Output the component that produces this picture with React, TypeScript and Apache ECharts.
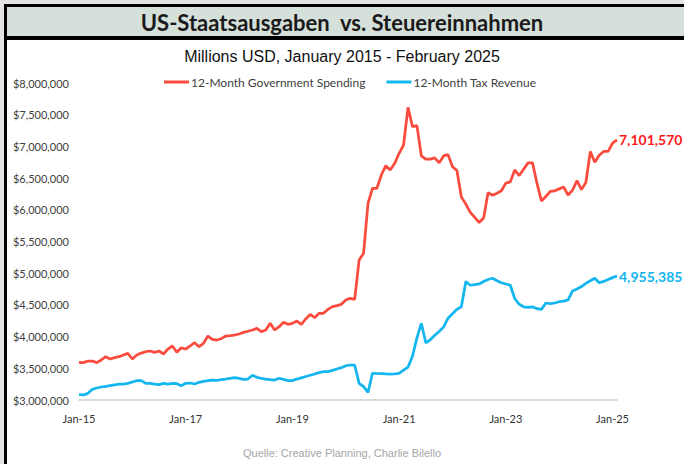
import React, { useEffect, useRef } from "react";
import * as echarts from "echarts";

const MONTH_NAMES = ["Jan", "Feb", "Mar", "Apr", "May", "Jun", "Jul", "Aug", "Sep", "Oct", "Nov", "Dec"];
const START_YEAR = 2015;
const MONTH_COUNT = 122; // Jan 2015 - Feb 2025
const months: string[] = [];
for (let i = 0; i < MONTH_COUNT; i++) {
  const y = START_YEAR + Math.floor(i / 12);
  months.push(`${MONTH_NAMES[i % 12]}-${String(y).slice(2)}`);
}
const xLabelEvery = 24;

const spending = [
  3594000, 3589000, 3615000, 3615000, 3589000, 3631000, 3683000, 3647000, 3668000, 3683000,
  3710000, 3736000, 3647000, 3710000, 3740000, 3762000, 3773000, 3752000, 3773000, 3726000,
  3804000, 3852000, 3752000, 3825000, 3804000, 3852000, 3904000, 3841000, 3894000, 4009000,
  3957000, 3946000, 3967000, 4009000, 4015000, 4025000, 4041000, 4067000, 4085000, 4104000,
  4130000, 4078000, 4104000, 4209000, 4104000, 4157000, 4225000, 4193000, 4209000, 4246000,
  4193000, 4278000, 4351000, 4299000, 4367000, 4367000, 4430000, 4472000, 4488000, 4509000,
  4577000, 4604000, 4588000, 5208000, 5313000, 6102000, 6339000, 6339000, 6549000, 6696000,
  6628000, 6733000, 6891000, 7022000, 7616000, 7311000, 7327000, 6850000, 6800000, 6800000,
  6820000, 6740000, 6850000, 6870000, 6680000, 6620000, 6200000, 6090000, 5960000, 5880000,
  5800000, 5870000, 6270000, 6230000, 6260000, 6300000, 6420000, 6440000, 6630000, 6540000,
  6640000, 6740000, 6740000, 6420000, 6140000, 6210000, 6290000, 6300000, 6330000, 6360000,
  6230000, 6310000, 6460000, 6320000, 6430000, 6920000, 6750000, 6860000, 6920000, 6920000,
  7050000, 7101570,
];

const taxRevenue = [
  3089000, 3079000, 3105000, 3168000, 3189000, 3205000, 3216000, 3228000, 3240000, 3249000,
  3252000, 3263000, 3284000, 3305000, 3305000, 3263000, 3263000, 3252000, 3242000, 3263000,
  3252000, 3263000, 3258000, 3226000, 3263000, 3268000, 3252000, 3279000, 3294000, 3305000,
  3315000, 3310000, 3321000, 3331000, 3342000, 3352000, 3340000, 3326000, 3330000, 3390000,
  3358000, 3342000, 3330000, 3320000, 3315000, 3342000, 3326000, 3305000, 3305000, 3330000,
  3350000, 3370000, 3390000, 3410000, 3431000, 3447000, 3447000, 3468000, 3489000, 3510000,
  3540000, 3552000, 3552000, 3263000, 3210000, 3121000, 3421000, 3418000, 3415000, 3412000,
  3410000, 3412000, 3420000, 3470000, 3520000, 3690000, 3980000, 4210000, 3900000, 3950000,
  4020000, 4080000, 4150000, 4290000, 4360000, 4430000, 4470000, 4870000, 4810000, 4820000,
  4830000, 4870000, 4900000, 4920000, 4880000, 4850000, 4830000, 4810000, 4600000, 4510000,
  4470000, 4460000, 4470000, 4440000, 4430000, 4530000, 4520000, 4530000, 4550000, 4560000,
  4580000, 4720000, 4750000, 4790000, 4840000, 4880000, 4920000, 4850000, 4870000, 4900000,
  4930000, 4955385,
];

const Y_MIN = 3000000;
const Y_MAX = 8000000;
const Y_STEP = 500000;

const TITLE = "US-Staatsausgaben  vs. Steuereinnahmen";
const SUBTITLE = "Millions USD, January 2015 - February 2025";
const SOURCE = "Quelle: Creative Planning, Charlie Bilello";
const SERIES_NAMES = ["12-Month Government Spending", "12-Month Tax Revenue"];

const RED = "#f94c3f";
const RED_LABEL = "#ff1a1a";
const BLUE = "#14b6ef";
const BLUE_LABEL = "#12b4ee";
const FONT = "Lato, 'Open Sans', sans-serif";

const fmt = (v: number) => Number(v).toLocaleString("en-US");

export default function App() {
  const ref = useRef<HTMLDivElement>(null);
  useEffect(() => {
    if (!ref.current) return;
    const chart = echarts.init(ref.current, null, { renderer: "svg" });
    chart.setOption({
      animation: false,
      backgroundColor: "#ffffff",
      textStyle: { fontFamily: FONT },
      graphic: [
        { type: "rect", left: 0, top: 0, shape: { width: 684, height: 4 }, style: { fill: "#e4e4e4" } },
        { type: "rect", left: 0, top: 0, shape: { width: 4, height: 464 }, style: { fill: "#e4e4e4" } },
        { type: "rect", left: 4, top: 4, shape: { width: 680, height: 3 }, style: { fill: "#000" } },
        { type: "rect", left: 4, top: 4, shape: { width: 3, height: 460 }, style: { fill: "#000" } },
        { type: "rect", left: 7, top: 7, shape: { width: 677, height: 29 }, style: { fill: "#d6e0da" } },
        { type: "rect", left: 7, top: 36, shape: { width: 677, height: 4 }, style: { fill: "#000" } },
      ],
      title: [
        {
          text: TITLE,
          left: "center",
          top: 6,
          textStyle: { fontFamily: FONT, fontSize: 22, fontWeight: "bold", color: "#1a1a1a" },
        },
        {
          text: SUBTITLE,
          left: "center",
          top: 43,
          textStyle: { fontFamily: "'Liberation Sans', Arial, sans-serif", fontSize: 16, fontWeight: "normal", color: "#111" },
        },
        {
          text: SOURCE,
          left: "center",
          top: 442,
          textStyle: { fontFamily: "'Liberation Sans', Arial, sans-serif", fontSize: 11, fontWeight: "normal", color: "#a6a6a6" },
        },
      ],
      legend: {
        left: 159,
        top: 71,
        itemWidth: 25,
        itemHeight: 3,
        itemGap: 21,
        icon: "rect",
        textStyle: { fontFamily: FONT, fontSize: 12, color: "#404040", padding: [0, 0, 0, -3] },
        data: SERIES_NAMES,
      },
      grid: { left: 79, right: 67, top: 83, bottom: 64 },
      xAxis: {
        type: "category",
        data: months,
        boundaryGap: false,
        axisLine: { lineStyle: { color: "#d9d9d9", width: 2 } },
        axisTick: { show: false },
        axisLabel: {
          interval: (i: number) => i % xLabelEvery === 0,
          margin: 13,
          fontFamily: FONT,
          fontSize: 11,
          color: "#333",
        },
        splitLine: { show: false },
      },
      yAxis: {
        type: "value",
        min: Y_MIN,
        max: Y_MAX,
        interval: Y_STEP,
        axisLine: { show: false },
        axisTick: { show: false },
        splitLine: { show: false },
        axisLabel: {
          margin: 10,
          fontFamily: FONT,
          fontSize: 11,
          color: "#404040",
          formatter: (v: number) => "$" + fmt(v),
        },
      },
      series: [
        {
          name: SERIES_NAMES[0],
          type: "line",
          data: spending,
          showSymbol: false,
          symbol: "none",
          lineStyle: { color: RED, width: 2.75 },
          itemStyle: { color: RED },
          endLabel: {
            show: true,
            distance: 2,
            formatter: (p: any) => fmt(p.value),
            color: RED_LABEL,
            fontFamily: FONT,
            fontWeight: "bold",
            fontSize: 14,
          },
        },
        {
          name: SERIES_NAMES[1],
          type: "line",
          data: taxRevenue,
          showSymbol: false,
          symbol: "none",
          lineStyle: { color: BLUE, width: 2.75 },
          itemStyle: { color: BLUE },
          endLabel: {
            show: true,
            distance: 2,
            formatter: (p: any) => fmt(p.value),
            color: BLUE_LABEL,
            fontFamily: FONT,
            fontWeight: "bold",
            fontSize: 14,
          },
        },
      ],
    });
    return () => chart.dispose();
  }, []);
  return (
    <div
      ref={ref}
      style={{ position: "fixed", left: 0, top: 0, width: 684, height: 464 }}
    />
  );
}
